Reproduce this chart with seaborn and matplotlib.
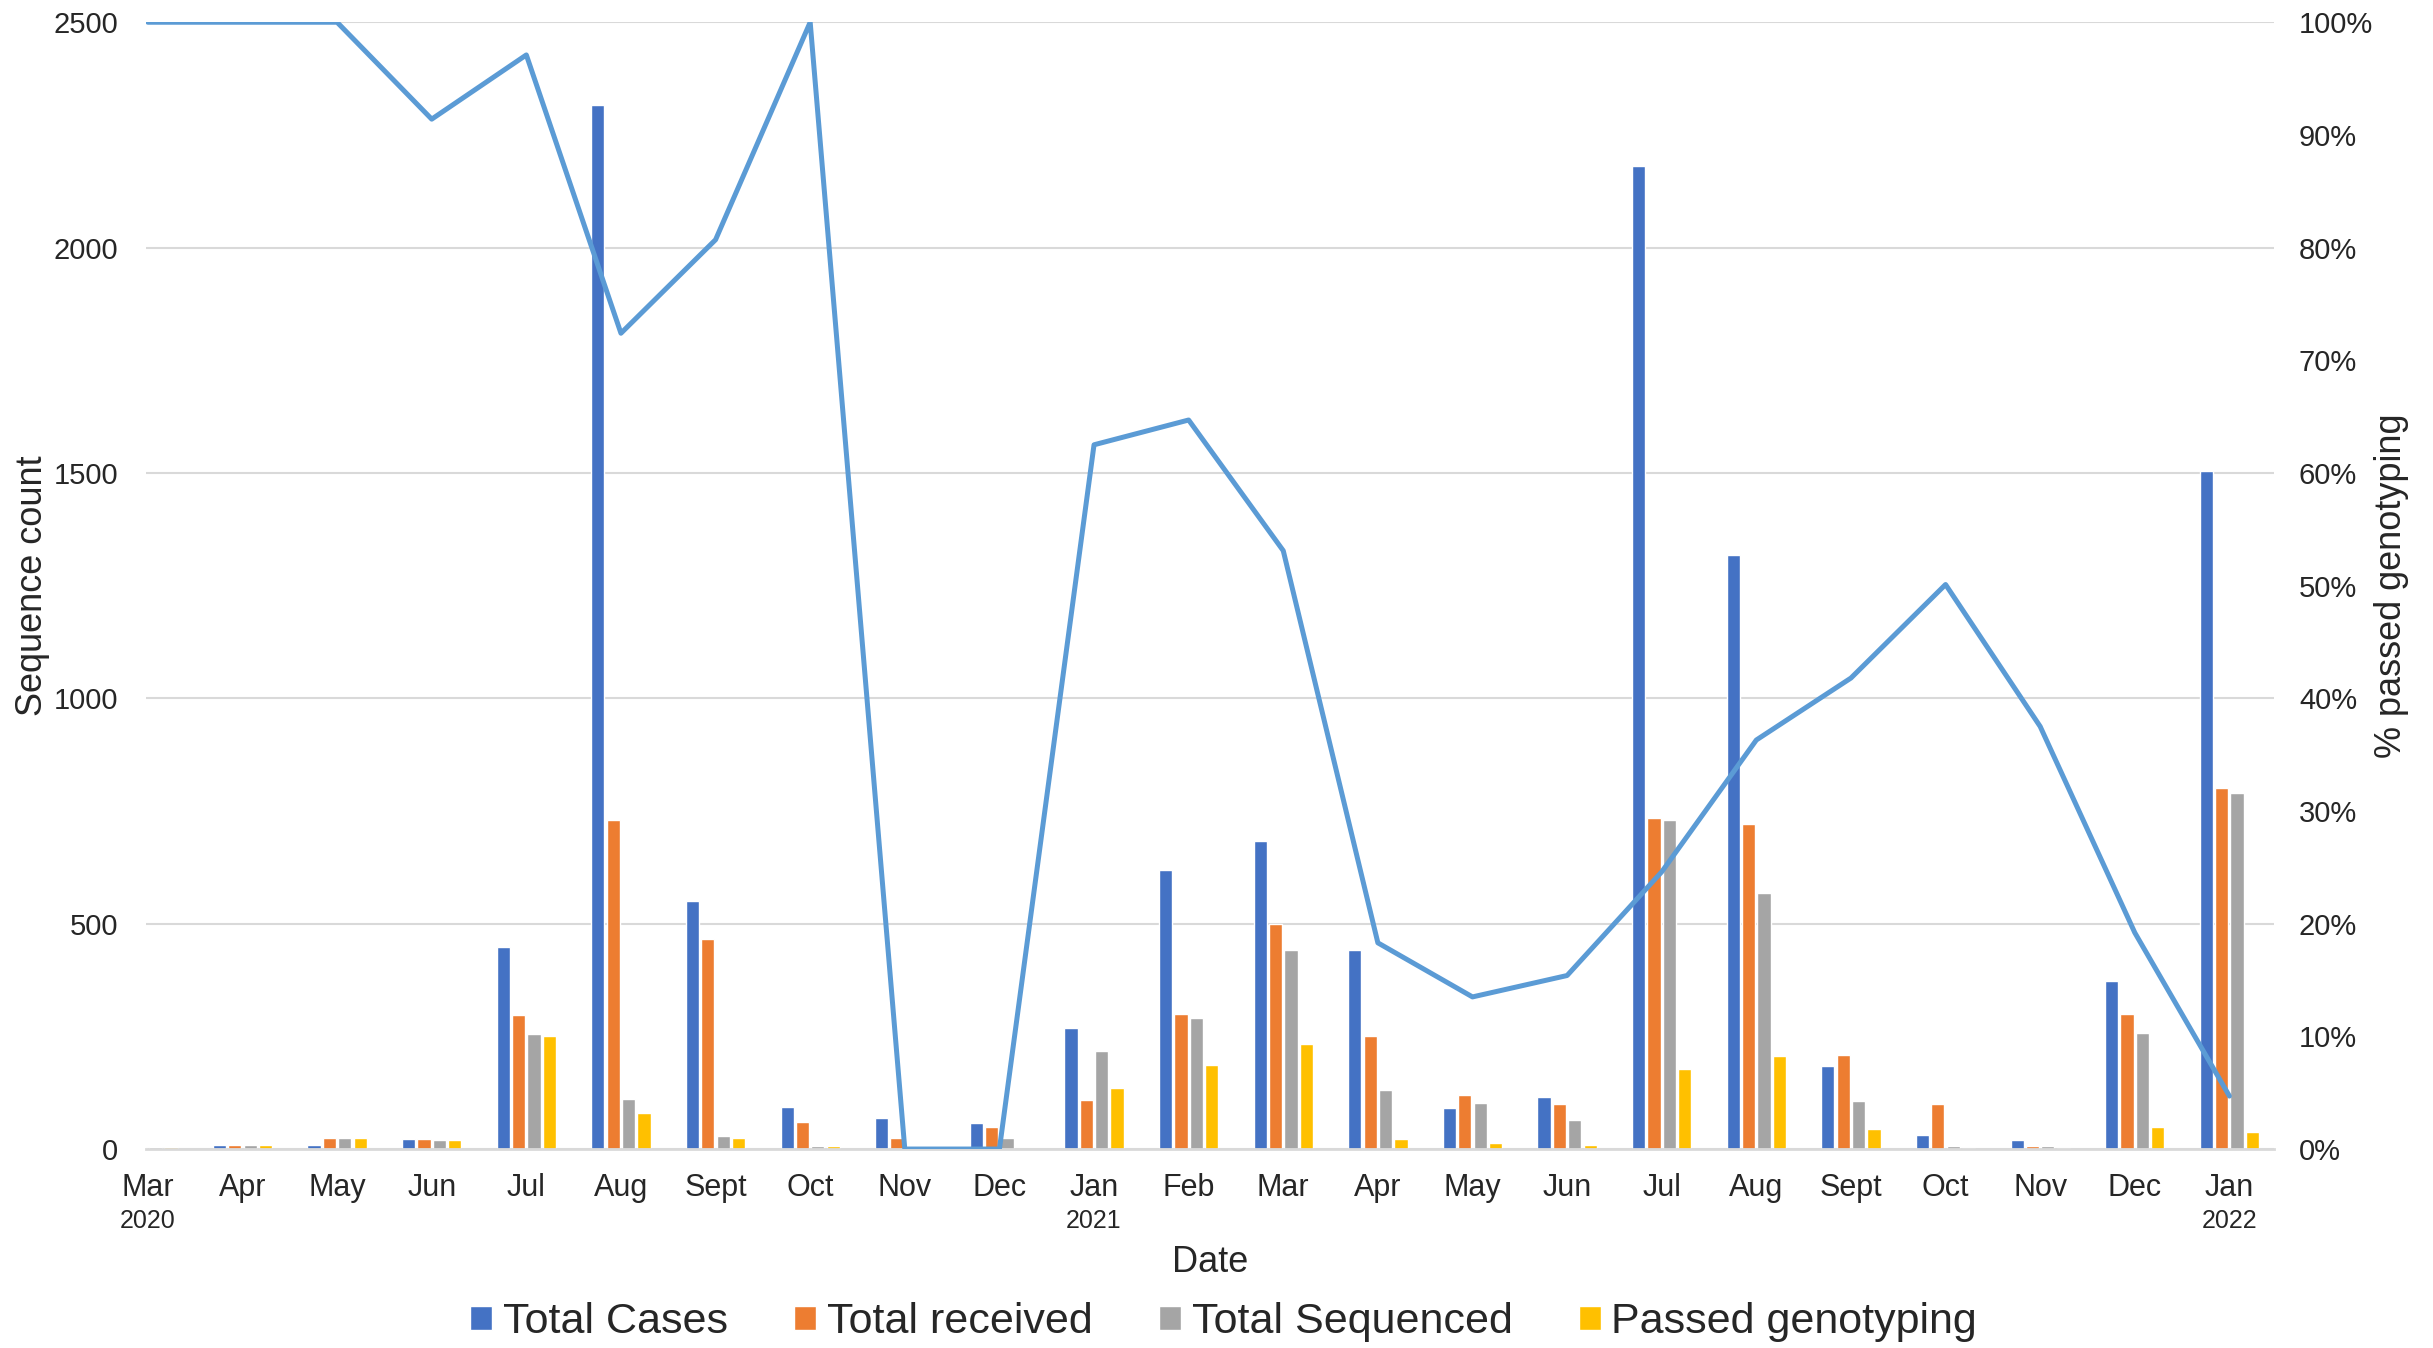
import numpy as np
import pandas as pd
import seaborn as sns
import matplotlib.pyplot as plt
from matplotlib.ticker import PercentFormatter, MultipleLocator

# month labels along the x axis (Mar 2020 .. Jan 2022)
months = ["Mar", "Apr", "May", "Jun", "Jul", "Aug", "Sept", "Oct", "Nov", "Dec",
          "Jan", "Feb", "Mar", "Apr", "May", "Jun", "Jul", "Aug", "Sept", "Oct",
          "Nov", "Dec", "Jan"]
years = {0: "2020", 10: "2021", 22: "2022"}

total_cases = [4, 8, 10, 23, 449, 2316, 550, 93, 69, 57,
               268, 620, 683, 441, 91, 116, 2180, 1317, 184, 31,
               20, 373, 1505]
total_received = [3, 8, 24, 23, 297, 731, 465, 59, 24, 48,
                  108, 299, 500, 251, 120, 99, 734, 721, 209, 99,
                  7, 299, 800]
total_sequenced = [5, 8, 24, 21, 255, 111, 30, 7, 0, 24,
                   218, 291, 441, 130, 103, 65, 731, 569, 107, 7,
                   7, 258, 790]
passed_genotyping = [5, 8, 24, 21, 251, 81, 24, 7, 0, 0,
                     136, 187, 232, 23, 13, 9, 177, 207, 45, 3,
                     2, 49, 37]
pct_passed = [1.0, 1.0, 1.0, 0.914, 0.971, 0.724, 0.807, 1.0, 0.0, 0.0,
              0.625, 0.647, 0.531, 0.183, 0.135, 0.154, 0.246, 0.363, 0.418, 0.501,
              0.375, 0.192, 0.047]

series_names = ["Total Cases", "Total received", "Total Sequenced", "Passed genotyping"]
colors = ["#4472C4", "#ED7D31", "#A5A5A5", "#FFC000"]

idx = np.arange(len(months))
df = pd.DataFrame({
    "idx": np.tile(idx, 4),
    "count": total_cases + total_received + total_sequenced + passed_genotyping,
    "series": np.repeat(series_names, len(months)),
})
df_pct = pd.DataFrame({"idx": idx, "pct": pct_passed})

sns.set_theme(style="white")
plt.rcParams["font.family"] = ["Liberation Sans", "DejaVu Sans"]

fig, ax = plt.subplots(figsize=(24.33, 13.48), dpi=100)
fig.subplots_adjust(left=0.060, right=0.9346, bottom=0.1476, top=0.9835)

sns.barplot(data=df, x="idx", y="count", hue="series", hue_order=series_names,
            palette=colors, width=0.65, gap=0.14, saturation=1, ax=ax)
h, l = ax.get_legend_handles_labels()
ax.get_legend().remove()

x_max = 22.47
ax.set_ylim(0, 2500)
ax.set_xlim(-0.02, x_max)
ax.yaxis.set_major_locator(MultipleLocator(500))
ax.grid(axis="y", color="#D9D9D9", linewidth=1.5)
ax.set_axisbelow(True)
for s in ["top", "left", "right"]:
    ax.spines[s].set_visible(False)
ax.spines["bottom"].set_color("#D9D9D9")
ax.spines["bottom"].set_linewidth(2)
ax.set_xticks(idx)
ax.set_xticklabels(months)
ax.tick_params(axis="x", length=7, width=1.2, color="#D9D9D9", pad=10, labelsize=22)
ax.tick_params(axis="y", length=0, pad=20, labelsize=21)
ax.set_xlabel("Date", fontsize=26)
ax.set_ylabel("Sequence count", fontsize=26)
ax.xaxis.set_label_coords(0.5, -0.0855)
ax.yaxis.set_label_coords(-0.045, 0.5)

for i, yr in years.items():
    ax.text(i, -0.070, yr, transform=ax.get_xaxis_transform(), ha="center",
            va="baseline", fontsize=18)

ax2 = ax.twinx()
sns.lineplot(data=df_pct, x="idx", y="pct", color="#5B9BD5", linewidth=3.6, ax=ax2)
ax2.set_ylim(0, 1)
ax2.set_xlim(-0.02, x_max)
ax2.yaxis.set_major_locator(MultipleLocator(0.1))
ax2.yaxis.set_major_formatter(PercentFormatter(1, decimals=0))
ax2.tick_params(axis="y", length=0, pad=18, labelsize=21)
ax2.grid(False)
for s in ax2.spines.values():
    s.set_visible(False)
ax2.set_ylabel("% passed genotyping", fontsize=26)
ax2.yaxis.set_label_coords(1.047, 0.5)
ax2.set_xlabel("")

fig.legend(h, l, loc="center", bbox_to_anchor=(0.503, 0.019), ncol=4, frameon=False,
           fontsize=31, handlelength=0.5, handleheight=0.5, handletextpad=0.25,
           columnspacing=1.55)

fig.savefig("out.png", dpi=100)
